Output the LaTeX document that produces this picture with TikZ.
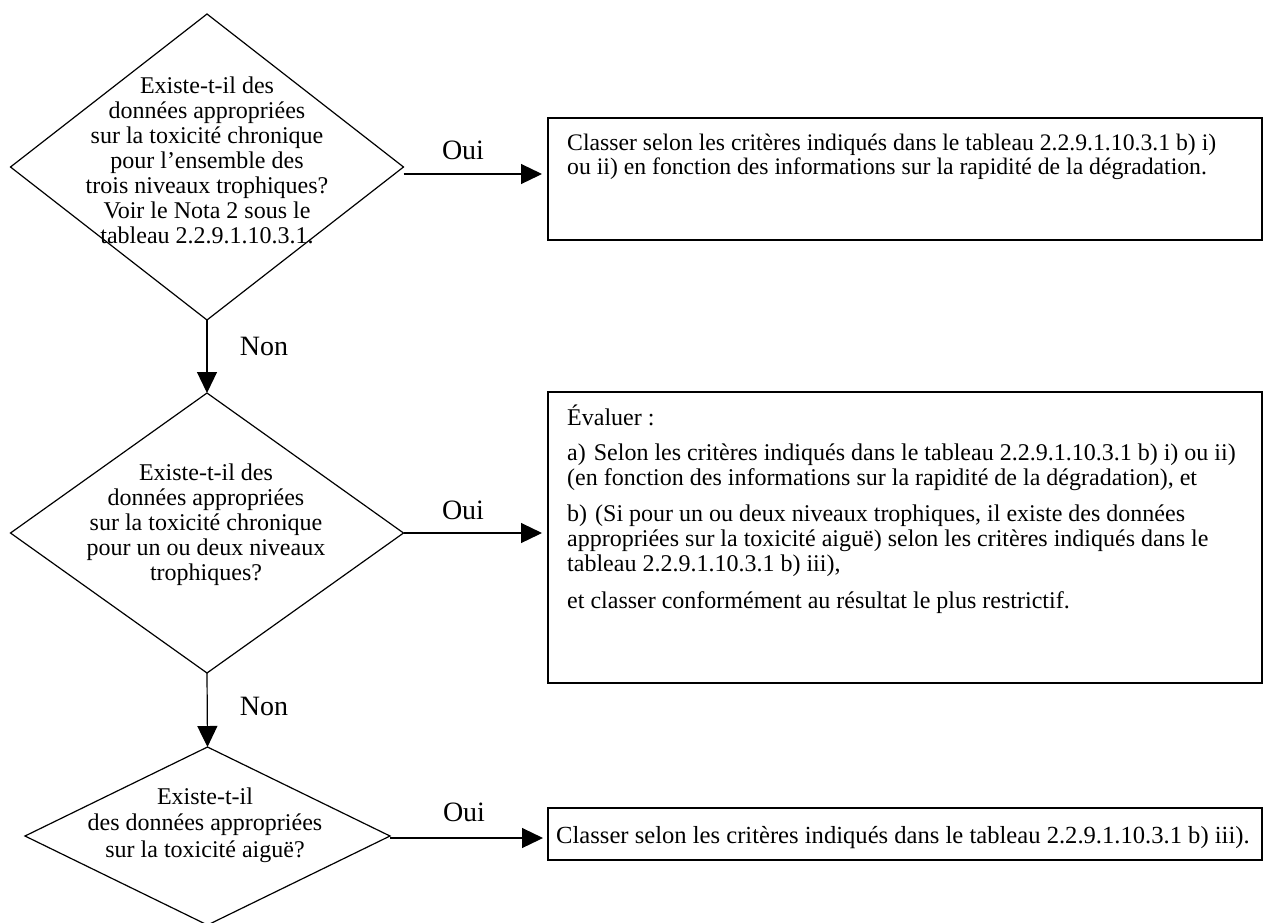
\documentclass[tikz,border=0pt]{standalone}
\usepackage{fontspec}
\setmainfont{Liberation Serif}
\usetikzlibrary{shapes.geometric,arrows.meta,calc}
\begin{document}
\begin{tikzpicture}[x=1pt,y=-1pt]
\tikzset{
 diam/.style={draw, shape=diamond, inner sep=0pt, outer sep=0pt, line width=1.2pt},
 boxnode/.style={draw, rectangle, inner sep=0pt, outer sep=0pt, line width=1.6pt, anchor=north west},
 txt/.style={inner sep=0pt, font=\fontsize{24}{25}\selectfont},
 lab/.style={inner sep=0pt, anchor=base, font=\fontsize{28}{30}\selectfont},
 arr/.style={line width=1.2pt, -{Triangle[length=21pt,width=20pt]}},
}
\useasboundingbox (0,0) rectangle (1263,922);
% diamonds
\node[diam, minimum width=393pt, minimum height=306pt] (d1) at (207,167) {};
\node[diam, minimum width=393pt, minimum height=280pt] (d2) at (207,533) {};
\node[diam, minimum width=365pt, minimum height=178pt] (d3) at (207.5,836) {};
% boxes
\node[boxnode, minimum width=714pt, minimum height=122pt] (b1) at (548,118) {};
\node[boxnode, minimum width=714pt, minimum height=291pt] (b2) at (548,392) {};
\node[boxnode, minimum width=714pt, minimum height=52pt] (b3) at (548,808) {};
% diamond texts (anchor = baseline of last line)
\node[txt, align=center, anchor=base] (q1) at (207,243) {Existe-t-il des\\données appropriées\\sur la toxicité chronique\\pour l’ensemble des\\trois niveaux trophiques?\\Voir le Nota 2 sous le\\tableau 2.2.9.1.10.3.1.};
\node[txt, align=center, anchor=base] (q2) at (206,580) {Existe-t-il des\\données appropriées\\sur la toxicité chronique\\pour un ou deux niveaux\\trophiques?};
\node[inner sep=0pt, font=\fontsize{24}{26.5}\selectfont, align=center, anchor=base] (q3) at (205,857) {Existe-t-il\\des données appropriées\\sur la toxicité aiguë?};
% box texts
\node[txt, font=\fontsize{23.7}{24}\selectfont, align=left, anchor=base west] (t1) at (567,174) {Classer selon les critères indiqués dans le tableau 2.2.9.1.10.3.1 b) i)\\ou ii) en fonction des informations sur la rapidité de la dégradation.};
\node[txt, align=left, anchor=base west] (t2) at (567,608) {Évaluer :\\[10pt]a)\hspace{8pt}Selon les critères indiqués dans le tableau 2.2.9.1.10.3.1 b) i) ou ii)\\(en fonction des informations sur la rapidité de la dégradation), et\\[11pt]b)\hspace{8pt}(Si pour un ou deux niveaux trophiques, il existe des données\\appropriées sur la toxicité aiguë) selon les critères indiqués dans le\\tableau 2.2.9.1.10.3.1 b) iii),\\[12pt]et classer conformément au résultat le plus restrictif.};
\node[txt, font=\fontsize{24.6}{25}\selectfont, anchor=base west] (t3) at (556,843) {Classer selon les critères indiqués dans le tableau 2.2.9.1.10.3.1 b) iii).};
% connectors
\draw[arr, shorten >=6pt] ([yshift=-7pt]d1.east) -- ([yshift=-7pt]d1.east -| b1.west);
\draw[arr, shorten >=6pt] (d2.east) -- (d2.east -| b2.west);
\draw[arr, shorten >=5pt] ([yshift=-2pt]d3.east) -- ([yshift=-2pt]d3.east -| b3.west);
\draw[arr] (d1.south) -- (d2.north);
\draw[arr] (d2.south) -- (d3.north);
% labels
\node[lab] (oui1) at (463,159) {Oui};
\node[lab] (non1) at (264,355) {Non};
\node[lab] (oui2) at (463,519) {Oui};
\node[lab] (non2) at (264,715) {Non};
\node[lab] (oui3) at (464,821) {Oui};
\end{tikzpicture}
\end{document}
